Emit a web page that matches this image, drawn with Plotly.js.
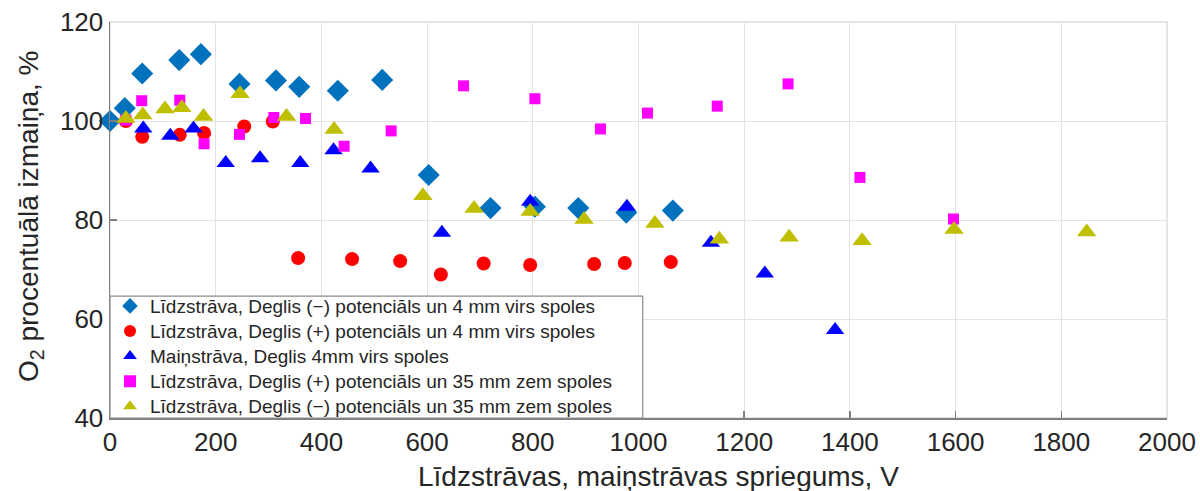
<!DOCTYPE html>
<html>
<head>
<meta charset="utf-8">
<script src="https://cdn.plot.ly/plotly-3.0.1.min.js"></script>
<style>
  html, body { margin: 0; padding: 0; background: #ffffff; }
  #chart { width: 1200px; height: 491px; }
</style>
</head>
<body>
<div id="chart"></div>
<script>
// Līdzstrāva, Deglis (−) potenciāls, 4 mm virs spoles
const dcNeg4X = [0, 28, 61, 131, 172, 245, 314, 358, 431, 515, 603, 720, 804, 886, 977, 1065];
const dcNeg4Y = [100, 102.6, 109.6, 112.3, 113.5, 107.5, 108.2, 106.9, 106.1, 108.3, 89.1, 82.4, 82.7, 82.4, 81.5, 81.9];

// Līdzstrāva, Deglis (+) potenciāls, 4 mm virs spoles
const dcPos4X = [30, 61, 132, 178, 254, 308, 356, 458, 549, 626, 707, 795, 916, 974, 1061];
const dcPos4Y = [100, 96.8, 97.2, 97.6, 98.9, 99.9, 72.3, 72.1, 71.7, 69.0, 71.2, 70.9, 71.1, 71.3, 71.5];

// Maiņstrāva, Deglis 4 mm virs spoles
const ac4X = [63, 114, 158, 219, 284, 360, 423, 493, 628, 795, 978, 1137, 1239, 1372];
const ac4Y = [98.5, 97, 98.5, 91.5, 92.5, 91.5, 94.1, 90.4, 77.4, 83.7, 82.7, 75.4, 69.2, 57.8];

// Līdzstrāva, Deglis (+) potenciāls, 35 mm zem spoles
const dcPos35X = [30, 60, 132, 178, 245, 310, 370, 443, 532, 669, 804, 928, 1017, 1149, 1283, 1419, 1596];
const dcPos35Y = [100.2, 104.1, 104.2, 95.4, 97.3, 100.7, 100.5, 94.9, 98.0, 107.1, 104.5, 98.4, 101.6, 103.0, 107.5, 88.6, 80.2];

// Līdzstrāva, Deglis (−) potenciāls, 35 mm zem spoles
const dcNeg35X = [30, 62, 104, 136, 177, 246, 334, 424, 592, 689, 795, 897, 1031, 1153, 1285, 1423, 1597, 1848];
const dcNeg35Y = [100.5, 101.2, 102.4, 102.7, 100.9, 105.5, 100.9, 98.3, 84.9, 82.3, 81.7, 80.1, 79.3, 76.1, 76.5, 75.8, 78.1, 77.6];

const seriesNames = [
  'Līdzstrāva, Deglis (−) potenciāls un 4 mm virs spoles',
  'Līdzstrāva, Deglis (+) potenciāls un 4 mm virs spoles',
  'Maiņstrāva, Deglis 4mm virs spoles',
  'Līdzstrāva, Deglis (+) potenciāls un 35 mm zem spoles',
  'Līdzstrāva, Deglis (−) potenciāls un 35 mm zem spoles'
];

const xTickVals = [0, 200, 400, 600, 800, 1000, 1200, 1400, 1600, 1800, 2000];
const yTickVals = [40, 60, 80, 100, 120];

const xTitle = 'Līdzstrāvas, maiņstrāvas spriegums, V';
const yTitle = 'O<sub>2</sub> procentuālā izmaiņa, %';

const FONT = 'Liberation Sans, Arial, Helvetica, sans-serif';
const TXT = '#262626';

// legend rows are spaced from the legend font size; the entry text itself is drawn a bit larger
const legendLabel = s => '<span style="font-size:19px">' + s + '</span>';

function scatter(x, y, name, symbol, color, size) {
  return {
    type: 'scatter', mode: 'markers', x: x, y: y, name: legendLabel(name), cliponaxis: false,
    marker: { symbol: symbol, color: color, size: size, line: { width: 0 } }
  };
}

const traces = [
  scatter(dcNeg4X, dcNeg4Y, seriesNames[0], 'diamond', '#0072BD', 17),
  scatter(dcPos4X, dcPos4Y, seriesNames[1], 'circle', '#FF0000', 14),
  scatter(ac4X, ac4Y, seriesNames[2], 'triangle-up', '#0000FF', 16),
  scatter(dcPos35X, dcPos35Y, seriesNames[3], 'square', '#FF00FF', 11),
  scatter(dcNeg35X, dcNeg35Y, seriesNames[4], 'triangle-up', '#BFBF00', 17)
];

const layout = {
  width: 1200, height: 491,
  margin: { l: 110, r: 33, t: 22, b: 73, pad: 0 },
  paper_bgcolor: '#ffffff', plot_bgcolor: '#ffffff',
  font: { family: FONT, color: TXT },
  showlegend: true,
  legend: {
    x: 0, y: -0.016, xanchor: 'left', yanchor: 'bottom',
    bgcolor: 'rgba(0,0,0,0)', borderwidth: 0,
    font: { family: FONT, size: 17, color: TXT },
    tracegroupgap: 0, itemsizing: 'constant'
  },
  xaxis: {
    range: [0, 2000], tickvals: xTickVals, ticktext: xTickVals.map(String),
    showgrid: true, gridcolor: '#e3e3e3', gridwidth: 1,
    zeroline: false, showline: true, linecolor: '#7f7f7f', linewidth: 1.5,
    ticks: 'inside', ticklen: 7, tickcolor: '#7f7f7f', tickwidth: 1.5,
    tickfont: { family: FONT, size: 26, color: TXT }
  },
  yaxis: {
    range: [40, 120], tickvals: yTickVals, ticktext: yTickVals.map(String),
    showgrid: true, gridcolor: '#e3e3e3', gridwidth: 1,
    zeroline: false, showline: true, linecolor: '#7f7f7f', linewidth: 1.5,
    ticks: 'inside', ticklen: 7, tickcolor: '#7f7f7f', tickwidth: 1.5,
    tickfont: { family: FONT, size: 26, color: TXT }
  },
  annotations: [
    {
      text: xTitle, xref: 'paper', yref: 'paper', x: 0.519, y: 0,
      xanchor: 'center', yanchor: 'middle', yshift: -58, showarrow: false,
      font: { family: FONT, size: 28, color: TXT }
    },
    {
      text: yTitle, xref: 'paper', yref: 'paper', x: 0, y: 0.51,
      xanchor: 'center', yanchor: 'middle', xshift: -80, textangle: -90, showarrow: false,
      font: { family: FONT, size: 28, color: TXT }
    }
  ],
  shapes: [
    {
      // light frame on the top and right edges of the plot area
      type: 'rect', xref: 'paper', yref: 'paper', x0: 0, x1: 1, y0: 0, y1: 1,
      line: { color: '#dcdcdc', width: 1.5 }, layer: 'below'
    },
    {
      // legend box
      type: 'rect', xref: 'paper', yref: 'paper', x0: 0, x1: 0.504, y0: 0, y1: 0.308,
      fillcolor: '#ffffff', line: { color: '#8c8c8c', width: 1.2 }, layer: 'above'
    }
  ]
};

Plotly.newPlot('chart', traces, layout, { displayModeBar: false, staticPlot: true });
</script>
</body>
</html>
